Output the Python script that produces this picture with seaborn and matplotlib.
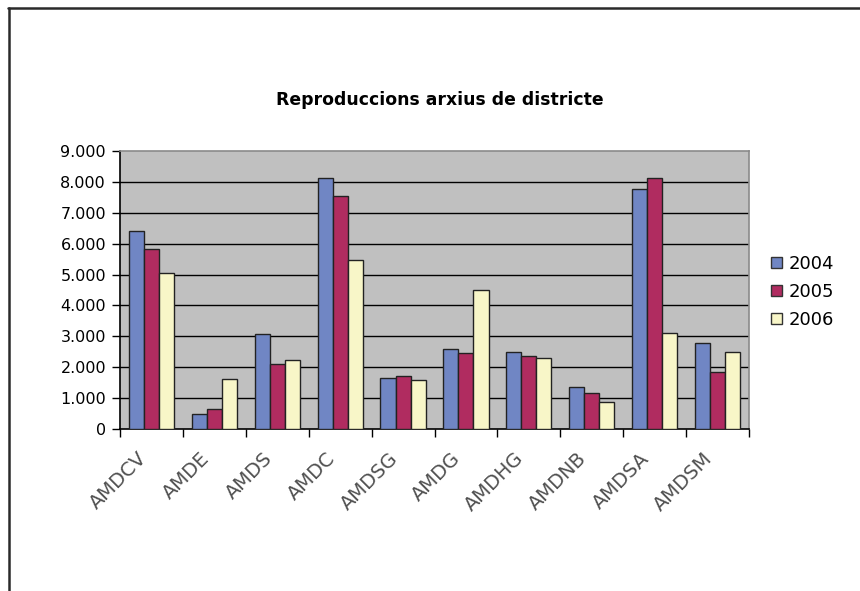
import pandas as pd
import seaborn as sns
import matplotlib.pyplot as plt
import matplotlib.transforms as mtransforms
from matplotlib.lines import Line2D
from matplotlib.patches import Patch
from matplotlib.ticker import FuncFormatter, FixedLocator

# Data
districts = ['AMDCV', 'AMDE', 'AMDS', 'AMDC', 'AMDSG', 'AMDG', 'AMDHG', 'AMDNB', 'AMDSA', 'AMDSM']
years = ['2004', '2005', '2006']
values_2004 = [6400, 490, 3060, 8120, 1650, 2590, 2480, 1350, 7760, 2780]
values_2005 = [5830, 660, 2110, 7530, 1700, 2460, 2370, 1160, 8120, 1840]
values_2006 = [5040, 1630, 2250, 5470, 1580, 4490, 2300, 860, 3110, 2490]
y_ticks = [0, 1000, 2000, 3000, 4000, 5000, 6000, 7000, 8000, 9000]

colors = ['#7086C4', '#B02C60', '#F8F6C8']

# Long-form table for seaborn
df = pd.DataFrame({
    'district': districts * 3,
    'year': [y for y in years for _ in districts],
    'value': values_2004 + values_2005 + values_2006,
})

sns.set_style('ticks')
plt.rcParams['font.family'] = ['DejaVu Sans']

fig = plt.figure(figsize=(8.6, 5.91), dpi=100)
ax = fig.add_axes([120 / 860, 1 - 429 / 591, 629 / 860, 278 / 591])

sns.barplot(data=df, x='district', y='value', hue='year', order=districts,
            hue_order=years, palette=colors, width=0.72, saturation=1,
            edgecolor='#222222', linewidth=1.0, ax=ax, legend=False, zorder=3)

ax.set_facecolor('#C0C0C0')
ax.set_xlim(-0.5, len(districts) - 0.5)
ax.set_ylim(0, 9000)
ax.yaxis.set_major_locator(FixedLocator(y_ticks))
ax.yaxis.set_major_formatter(FuncFormatter(lambda v, p: f'{v:,.0f}'.replace(',', '.')))
ax.yaxis.grid(True, color='black', linewidth=1.0, zorder=1)
ax.set_axisbelow(True)
ax.get_ygridlines()[-1].set_visible(False)
ax.get_ygridlines()[0].set_visible(False)

# category separators as minor ticks on x
ax.xaxis.set_minor_locator(FixedLocator([i - 0.5 for i in range(len(districts) + 1)]))
ax.tick_params(axis='x', which='major', length=0, pad=19)
ax.tick_params(axis='x', which='minor', length=6, width=1, color='black', direction='out')
ax.tick_params(axis='y', length=6, width=1, color='black', direction='out',
               labelsize=11.5, labelcolor='black', pad=4)
shift = mtransforms.ScaledTranslation(-8 / 100, 0, fig.dpi_scale_trans)
for lbl in ax.get_xticklabels():
    lbl.set_rotation(45)
    lbl.set_ha('right')
    lbl.set_va('center')
    lbl.set_rotation_mode('anchor')
    lbl.set_fontsize(14)
    lbl.set_color('#505050')
    lbl.set_transform(lbl.get_transform() + shift)

ax.set_xlabel('')
ax.set_ylabel('')
for side in ['top', 'right']:
    ax.spines[side].set_color('#8a8a8a')
    ax.spines[side].set_linewidth(1.2)
for side in ['left', 'bottom']:
    ax.spines[side].set_color('black')
    ax.spines[side].set_linewidth(1.2)

fig.text(440 / 860, 1 - 100 / 591, 'Reproduccions arxius de districte',
         ha='center', va='center', fontsize=12.4, fontweight='bold', color='black')

handles = [Patch(facecolor=c, edgecolor='#333333', linewidth=1) for c in colors]
fig.legend(handles, years, loc='center left', bbox_to_anchor=(762 / 860, 1 - 292 / 591),
           frameon=False, fontsize=13, handlelength=0.6, handleheight=0.6,
           handletextpad=0.4, labelspacing=0.55, borderpad=0, labelcolor='black')

# outer frame of the screenshot
fig.add_artist(Line2D([8 / 860, 1], [1 - 8 / 591, 1 - 8 / 591], color='#2a2a2a', linewidth=1.8))
fig.add_artist(Line2D([9 / 860, 9 / 860], [0, 1 - 8 / 591], color='#2a2a2a', linewidth=1.8))

fig.savefig('out.png', dpi=100)
